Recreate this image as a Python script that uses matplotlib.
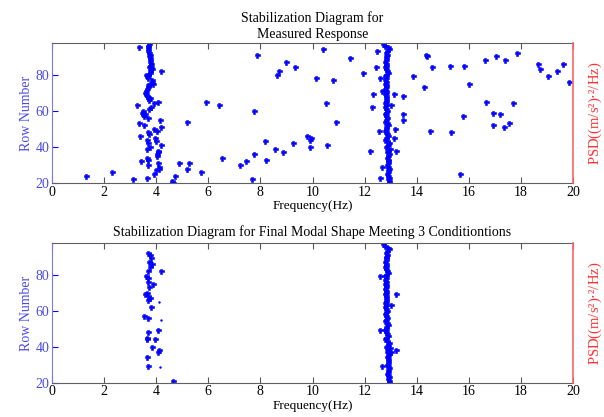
import numpy as np
import matplotlib
matplotlib.use("Agg")
import matplotlib.pyplot as plt

plt.rcParams['font.family'] = ['Liberation Serif', 'DejaVu Serif']
plt.rcParams['font.size'] = 9.5

# ---- top: measured response ----
# mode near 3.7 Hz (freq, row)
top_f1 = [3.72, 3.70, 3.33, 3.68, 3.69, 3.70, 3.74, 3.75, 3.73, 3.77, 3.78, 3.76, 3.79, 3.76, 3.80, 3.74,
          3.83, 4.18, 3.78, 3.75, 3.62, 3.68, 3.66, 3.70, 3.82, 3.85, 3.87, 3.75, 3.70, 3.69, 3.66, 3.60,
          3.57, 3.62, 3.66, 3.70, 3.76, 3.74, 4.08, 3.90, 3.25, 3.80, 3.74, 3.48, 3.45, 3.51, 3.57, 3.55,
          3.70, 4.15, 3.35, 3.54, 4.18, 3.90, 4.02, 3.70, 3.72, 3.38, 3.96, 3.63, 3.99, 3.68, 4.19, 3.77,
          3.66, 4.08, 4.06, 4.04, 4.02, 3.63, 3.68, 3.41, 4.08, 3.70, 4.09, 4.10, 3.99, 3.90, 4.72, 1.31,
          2.30, 3.63, 3.10, 4.62, 4.60, 4.65]
top_r1 = [97, 96, 95, 95, 94, 93, 92, 91, 90, 89, 88, 87, 86, 85, 84, 84,
          83, 82, 82, 81, 80, 80, 79, 78, 77, 76, 75, 75, 74, 73, 72, 71,
          70, 69, 68, 67, 67, 66, 65, 64, 63, 62, 61, 60, 59, 58, 58, 57,
          56, 55, 53, 52, 51, 50, 49, 48, 47, 46, 45, 44, 43, 42, 41, 40,
          39, 38, 37, 36, 35, 34, 33, 32, 31, 30, 29, 28, 27, 25, 24, 24,
          26, 23, 22, 21, 20, 20]

# mode near 12.8 Hz, rows 97 down to 20
col_rows = list(range(97, 19, -1))
col_f = [12.72, 12.80, 12.88, 12.93, 12.85, 12.82, 12.86, 12.84, 12.81, 12.83, 12.80, 12.84, 12.82,
         12.79, 12.81, 12.87, 12.90, 12.84, 12.80, 12.82, 12.79, 12.81, 12.80, 12.83, 12.82, 12.80,
         12.84, 12.82, 12.79, 12.81, 12.83, 12.82, 12.84, 12.80, 12.83, 12.79, 12.81, 12.86, 12.84,
         12.80, 12.82, 12.85, 12.83, 12.79, 12.86, 12.88, 12.84, 12.81, 12.78, 12.83, 12.86, 12.90,
         12.82, 12.79, 12.85, 12.93, 12.88, 12.84, 12.99, 12.90, 12.87, 12.92, 12.89, 12.86, 12.90,
         12.88, 12.91, 12.86, 12.89, 12.92, 12.88, 12.90, 12.87, 12.91, 12.93, 12.89, 12.92, 12.94]

# scattered (spurious) poles
scat_f = [4.89, 5.17, 5.20, 5.26, 5.71, 5.93, 6.42, 6.51, 7.23, 7.46, 7.66, 7.74, 7.74, 7.88, 8.17,
          8.20, 8.56, 8.65, 8.71, 8.88, 8.99, 9.25, 9.32, 9.80, 9.96, 9.92, 9.90, 10.12, 10.41, 10.52,
          10.54, 10.80, 10.91, 11.44, 11.95, 12.20, 12.27, 12.33, 12.46, 12.43, 12.59, 12.65, 12.56,
          12.65, 12.59, 13.19, 13.12, 13.14, 13.01, 13.16, 13.48, 13.48, 13.48, 13.84, 14.28, 14.35,
          14.39, 14.57, 14.52, 15.26, 15.31, 15.76, 15.68, 15.83, 16.00, 16.62, 16.67, 16.94, 16.94,
          17.04, 17.20, 17.34, 17.38, 17.55, 17.71, 17.85, 18.66, 18.73, 19.03, 19.40, 19.60, 19.86]
scat_r = [31, 54, 28, 31, 26, 65, 63, 34, 30, 32, 22, 36, 60, 91, 43,
          33, 39, 80, 82, 37, 87, 42, 84, 46, 45, 44, 40, 78, 94, 64,
          41, 77, 54, 89, 81, 38, 62, 69, 93, 84, 78, 71, 49,
          29, 23, 38, 45, 69, 63, 50, 68, 58, 55, 79, 73, 91,
          90, 84, 49, 85, 48, 57, 25, 85, 75, 88, 65, 59, 52,
          90, 58, 51, 88, 53, 64, 92, 86, 83, 79, 82, 86, 76]

# ---- bottom: final modal shapes ----
bot_f1 = [3.70, 3.75, 3.79, 3.73, 3.82, 3.75, 3.67, 4.20, 3.60, 3.69, 3.86, 3.67, 3.73, 3.64, 3.58,
          3.67, 3.77, 3.67, 3.79, 3.54, 3.70, 4.07, 3.70, 3.64, 3.63, 3.95, 3.82, 4.09, 4.05, 3.64,
          3.70, 4.66]
bot_r1 = [92, 91, 89, 87, 86, 84, 82, 82, 79, 78, 75, 76, 73, 70, 69,
          68, 67, 66, 62, 57, 56, 49, 48, 45, 44, 44, 40, 38, 37, 34,
          29, 21]
bot_dot_f = [4.11, 4.18, 4.14]
bot_dot_r = [65, 55, 28.5]
bot_out_f = [13.19, 13.00, 12.59, 13.20, 13.03, 12.65, 12.59]
bot_out_r = [69, 63, 49, 38, 37, 29, 79]

xticks = [0, 2, 4, 6, 8, 10, 12, 14, 16, 18, 20]
yticks = [20, 40, 60, 80]

blue = '#0000ff'
lab_blue = '#4a4ae6'
spine_blue = '#7878ff'
red = '#ff6666'

fig = plt.figure(figsize=(6.04, 4.17), dpi=100)


def style(ax):
    ax.set_xlim(0, 20)
    ax.set_ylim(20, 97.4)
    ax.set_xticks(xticks)
    ax.set_yticks(yticks)
    ax.tick_params(axis='x', direction='in', top=True, bottom=True, length=4,
                   color='#555555', labelsize=10, pad=2)
    ax.tick_params(axis='y', direction='in', left=True, right=True, length=4,
                   color=blue, labelcolor=lab_blue, labelsize=10, pad=2)
    for s in ['top', 'bottom']:
        ax.spines[s].set_color('#606060')
    ax.spines['left'].set_color(spine_blue)
    ax.spines['right'].set_visible(False)
    ax.set_xlabel('Frequency(Hz)', labelpad=1)
    ax.set_ylabel('Row Number', color=lab_blue, labelpad=2, fontsize=10)
    ax2 = ax.twinx()
    ax2.set_ylim(20, 97.4)
    ax2.set_yticks([])
    for s in ['top', 'bottom', 'left']:
        ax2.spines[s].set_visible(False)
    ax2.spines['right'].set_color(red)
    ax2.spines['right'].set_linewidth(1.2)
    ax2.set_ylabel('PSD((m/s²)$\\cdot$²/Hz)', color='#ff3333', labelpad=10, fontsize=10.5)


mk = dict(marker='P', ms=3.6, color=blue, ls='none', mew=0.4, mec=blue)

ax1 = fig.add_axes([0.0861, 0.561, 0.8626, 0.3357])
ax1.plot(top_f1, top_r1, **mk)
ax1.plot(col_f, col_rows, **mk)
ax1.plot(scat_f, scat_r, **mk)
style(ax1)
ax1.set_title('Stabilization Diagram for\nMeasured Response', fontsize=10, pad=4, linespacing=1.25)

ax3 = fig.add_axes([0.0861, 0.0823, 0.8626, 0.3343])
ax3.plot(bot_f1, bot_r1, **mk)
ax3.plot(col_f, col_rows, **mk)
ax3.plot(bot_out_f, bot_out_r, **mk)
ax3.plot(bot_dot_f, bot_dot_r, marker='.', ms=1.5, color=blue, ls='none')
style(ax3)
ax3.set_title('Stabilization Diagram for Final Modal Shape Meeting 3 Conditiontions', fontsize=10, pad=5)

fig.savefig('out.png', dpi=100)
